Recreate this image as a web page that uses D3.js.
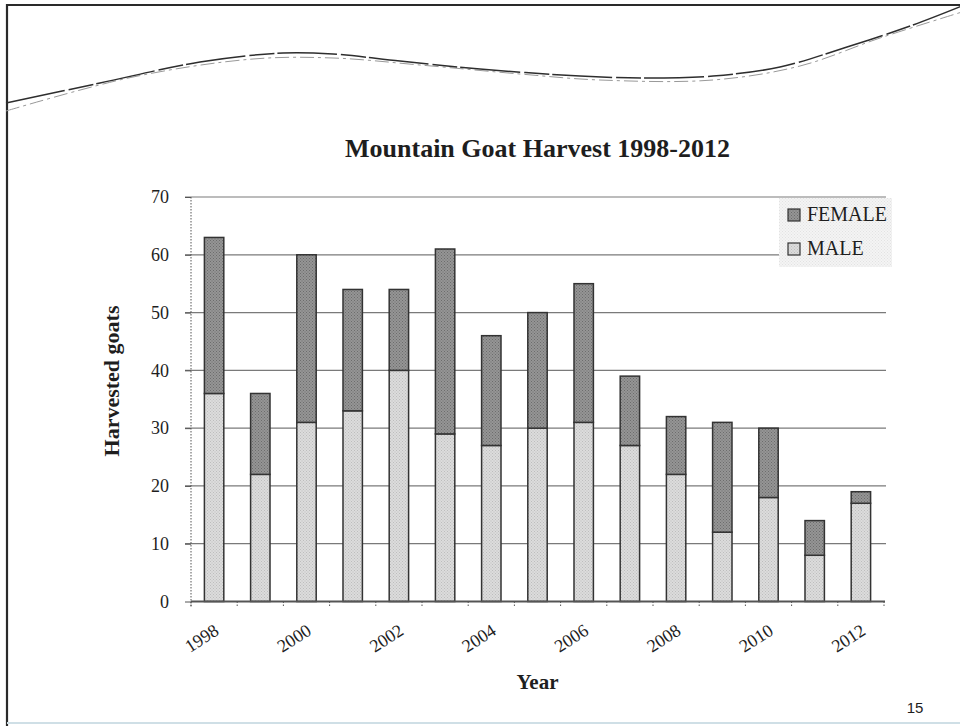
<!DOCTYPE html>
<html>
<head>
<meta charset="utf-8">
<script src="https://cdn.jsdelivr.net/npm/d3@7"></script>
<style>
  html, body { margin: 0; padding: 0; background: #fff; }
  svg { display: block; }
  text { font-family: "Liberation Serif", "DejaVu Serif", serif; fill: #1e1e1e; }
</style>
</head>
<body>
<figure id="chart" style="margin:0"></figure>
<script>
// chart data
const years = [1998, 1999, 2000, 2001, 2002, 2003, 2004, 2005, 2006, 2007, 2008, 2009, 2010, 2011, 2012];
const male = [36, 22, 31, 33, 40, 29, 27, 30, 31, 27, 22, 12, 18, 8, 17];
const female = [27, 14, 29, 21, 14, 32, 19, 20, 24, 12, 10, 19, 12, 6, 2];
const yTicks = [0, 10, 20, 30, 40, 50, 60, 70];
const yearLabels = [1998, 2000, 2002, 2004, 2006, 2008, 2010, 2012];
const seriesNames = ["MALE", "FEMALE"];

const width = 960;
const height = 726;
const plot = { left: 191, right: 884, top: 197, bottom: 601.5 };

const svg = d3.select("figure#chart")
  .append("svg")
  .attr("width", width)
  .attr("height", height);

// stipple fills, like the scanned print
const defs = svg.append("defs");
function stipple(id, base, dot) {
  const p = defs.append("pattern")
    .attr("id", id)
    .attr("patternUnits", "userSpaceOnUse")
    .attr("width", 3)
    .attr("height", 3);
  p.append("rect").attr("width", 3).attr("height", 3).attr("fill", base);
  p.append("rect").attr("width", 1).attr("height", 1).attr("fill", dot);
  p.append("rect").attr("x", 1.5).attr("y", 1.5).attr("width", 1).attr("height", 1).attr("fill", dot);
}
stipple("femaleFill", "#959595", "#6c6c6c");
stipple("maleFill", "#dcdcdc", "#bdbdbd");
stipple("legendFill", "#f4f4f4", "#e2e2e2");
const colors = { MALE: "url(#maleFill)", FEMALE: "url(#femaleFill)" };

// slide frame and decorative swoosh
svg.append("path")
  .attr("d", "M7," + height + "V5H" + width)
  .attr("fill", "none")
  .attr("stroke", "#2a2a2a")
  .attr("stroke-width", 2.2);
svg.append("line")
  .attr("x1", 7).attr("x2", width)
  .attr("y1", 723).attr("y2", 723)
  .attr("stroke", "#cfdfe6")
  .attr("stroke-width", 2);

const swooshDark = [[6, 103], [100, 83], [200, 62], [283, 53], [333, 54], [400, 61], [480, 69], [580, 76], [647, 78], [713, 76], [780, 67], [847, 47], [913, 25], [962, 6]];
const swooshLight = [[6, 111], [133, 77], [253, 59], [333, 58], [420, 65], [520, 74], [600, 80], [713, 80], [800, 66], [880, 38], [962, 12]];
const swoosh = d3.line().curve(d3.curveCatmullRom);
svg.append("path")
  .attr("d", swoosh(swooshLight))
  .attr("fill", "none")
  .attr("stroke", "#999")
  .attr("stroke-width", 1)
  .attr("stroke-dasharray", "14,4,3,4");
svg.append("path")
  .attr("d", swoosh(swooshDark))
  .attr("fill", "none")
  .attr("stroke", "#2e2e2e")
  .attr("stroke-width", 1.5)
  .attr("stroke-dasharray", "60,4,25,3");

// scales
const x = d3.scaleBand()
  .domain(years)
  .range([plot.left, plot.right])
  .paddingInner(0.58)
  .paddingOuter(0.29);

const xCell = d3.scaleBand()
  .domain(years)
  .range([plot.left, plot.right])
  .padding(0);

const y = d3.scaleLinear()
  .domain([0, 70])
  .range([plot.bottom, plot.top]);

// gridlines
svg.append("g")
  .selectAll("line")
  .data(yTicks.filter(d => d > 0))
  .enter()
  .append("line")
  .attr("x1", plot.left - 6)
  .attr("x2", plot.right + 2)
  .attr("y1", d => y(d))
  .attr("y2", d => y(d))
  .attr("stroke", "#7a7a7a")
  .attr("stroke-width", 1.2);

// y axis
const yAxis = svg.append("g")
  .attr("transform", "translate(" + plot.left + ",0)")
  .call(d3.axisLeft(y).tickValues(yTicks).tickSize(6).tickPadding(16));
yAxis.select(".domain")
  .attr("d", "M0," + plot.top + "V" + (plot.bottom + 6))
  .attr("stroke", "#555")
  .attr("stroke-dasharray", "1.5,1.5");
yAxis.selectAll(".tick line").attr("stroke", "#555");
yAxis.selectAll("text")
  .style("font-family", "'Liberation Serif', serif")
  .style("font-size", "18px")
  .attr("fill", "#222");

// stacked bars
const rows = years.map((yr, i) => ({ year: yr, MALE: male[i], FEMALE: female[i] }));
const stacked = d3.stack().keys(seriesNames)(rows);

svg.append("g")
  .selectAll("g")
  .data(stacked)
  .enter()
  .append("g")
  .attr("fill", d => colors[d.key])
  .selectAll("rect")
  .data(d => d)
  .enter()
  .append("rect")
  .attr("x", d => x(d.data.year))
  .attr("y", d => y(d[1]))
  .attr("width", x.bandwidth())
  .attr("height", d => y(d[0]) - y(d[1]))
  .attr("stroke", "#333")
  .attr("stroke-width", 1.5);

// x axis
svg.append("line")
  .attr("x1", plot.left)
  .attr("x2", plot.right + 1)
  .attr("y1", plot.bottom)
  .attr("y2", plot.bottom)
  .attr("stroke", "#555")
  .attr("stroke-width", 1.8);

svg.append("g")
  .selectAll("line")
  .data(years.concat([null]))
  .enter()
  .append("line")
  .attr("x1", d => d === null ? plot.right : xCell(d))
  .attr("x2", d => d === null ? plot.right : xCell(d))
  .attr("y1", plot.bottom)
  .attr("y2", plot.bottom + 6)
  .attr("stroke", "#555")
  .attr("stroke-dasharray", "1.5,1.5");

svg.append("g")
  .selectAll("text")
  .data(yearLabels)
  .enter()
  .append("text")
  .attr("transform", d => "translate(" + (x(d) + x.bandwidth() / 2 + 6) + "," + (plot.bottom + 32) + ")rotate(-33)")
  .attr("text-anchor", "end")
  .style("font-size", "18px")
  .text(d => d);

// titles
svg.append("text")
  .attr("x", (plot.left + plot.right) / 2)
  .attr("y", 157)
  .attr("text-anchor", "middle")
  .style("font-size", "26px")
  .style("font-weight", "bold")
  .text("Mountain Goat Harvest 1998-2012");

svg.append("text")
  .attr("x", (plot.left + plot.right) / 2)
  .attr("y", 689)
  .attr("text-anchor", "middle")
  .style("font-size", "21px")
  .style("font-weight", "bold")
  .text("Year");

svg.append("text")
  .attr("transform", "translate(119,381)rotate(-90)")
  .attr("text-anchor", "middle")
  .style("font-size", "22px")
  .style("font-weight", "bold")
  .text("Harvested goats");

// legend
const legend = svg.append("g").attr("transform", "translate(779,198)");
legend.append("rect")
  .attr("width", 113)
  .attr("height", 69)
  .attr("fill", "url(#legendFill)");
const legendItems = ["FEMALE", "MALE"];
legendItems.forEach((name, i) => {
  const row = legend.append("g").attr("transform", "translate(9," + (11 + i * 34) + ")");
  row.append("rect")
    .attr("width", 12)
    .attr("height", 12)
    .attr("fill", colors[name])
    .attr("stroke", "#333")
    .attr("stroke-width", 1.2);
  row.append("text")
    .attr("x", 19)
    .attr("y", 12)
    .style("font-size", "20px")
    .text(name);
});

// page number
svg.append("text")
  .attr("x", 915)
  .attr("y", 713)
  .attr("text-anchor", "middle")
  .style("font-family", "'Liberation Sans', Arial, sans-serif")
  .style("font-size", "15px")
  .text("15");
</script>
</body>
</html>
